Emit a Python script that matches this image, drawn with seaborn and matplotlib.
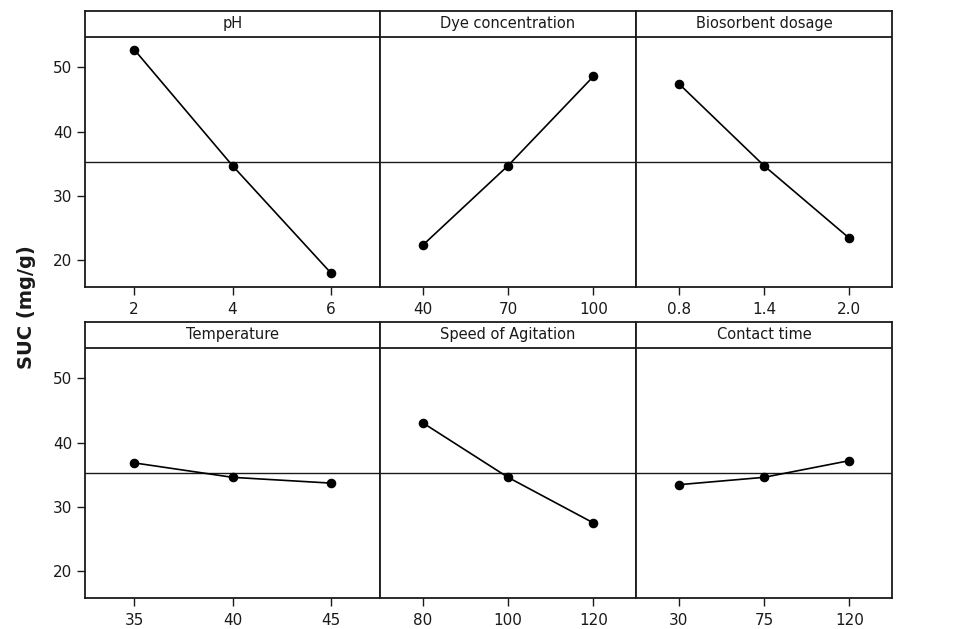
import numpy as np
import pandas as pd
import matplotlib
matplotlib.use("Agg")
import matplotlib.pyplot as plt
import matplotlib.transforms as mtransforms
import seaborn as sns

# ---- data ----
factors = ["pH", "Dye concentration", "Biosorbent dosage",
           "Temperature", "Speed of Agitation", "Contact time"]
levels_ph = ["2", "4", "6"]
levels_dye = ["40", "70", "100"]
levels_bio = ["0.8", "1.4", "2.0"]
levels_temp = ["35", "40", "45"]
levels_speed = ["80", "100", "120"]
levels_time = ["30", "75", "120"]
suc_ph = [52.8, 34.7, 18.0]
suc_dye = [22.3, 34.7, 48.6]
suc_bio = [47.5, 34.7, 23.4]
suc_temp = [36.85, 34.6, 33.7]
suc_speed = [43.1, 34.6, 27.5]
suc_time = [33.45, 34.6, 37.2]
grand_mean = 35.2
yticks = [20, 30, 40, 50]
ylabel = "SUC (mg/g)"

levels = [levels_ph, levels_dye, levels_bio, levels_temp, levels_speed, levels_time]
values = [suc_ph, suc_dye, suc_bio, suc_temp, suc_speed, suc_time]

rows = []
for f, lv, vals in zip(factors, levels, values):
    for l, v in zip(lv, vals):
        rows.append({"factor": f, "level": l, "suc": v})
df = pd.DataFrame(rows)

sns.set_theme(style="white")
plt.rcParams["font.family"] = ["DejaVu Sans"]

W, H = 972, 629
fig = plt.figure(figsize=(W / 100, H / 100), dpi=100)

col_edges = [85, 380, 636, 892]
row_edges = [(11, 287), (322, 598)]

ylo, yhi, strip_y = 15.8, 58.8, 54.8
edge = "#1a1a1a"

for i, f in enumerate(factors):
    r, c = divmod(i, 3)
    x0, x1 = col_edges[c], col_edges[c + 1]
    top, bot = row_edges[r]
    ax = fig.add_axes([x0 / W, (H - bot) / H, (x1 - x0) / W, (bot - top) / H])
    sub = df[df["factor"] == f]
    ax.axhline(grand_mean, color=edge, lw=1.0, zorder=1)
    sns.pointplot(data=sub, x="level", y="suc", order=levels[i], color="black",
                  markers="o", markersize=6, linewidth=1.2, errorbar=None, ax=ax)
    ax.set_xlim(-0.5, 2.5)
    ax.set_ylim(ylo, yhi)
    ax.axhline(strip_y, color=edge, lw=1.3, zorder=3)
    ax.text(0.5, (strip_y + yhi) / 2, f,
            transform=mtransforms.blended_transform_factory(ax.transAxes, ax.transData),
            ha="center", va="center", fontsize=10.5, color="#1a1a1a")
    ax.set_xlabel("")
    ax.set_ylabel("")
    for s in ax.spines.values():
        s.set_color(edge)
        s.set_linewidth(1.3)
    ax.tick_params(axis="x", direction="out", length=6, width=1.0, color=edge,
                   labelsize=11, labelcolor="#1a1a1a", pad=5, bottom=True)
    if c == 0:
        ax.set_yticks(yticks)
        ax.tick_params(axis="y", direction="out", length=6, width=1.0, color=edge,
                       labelsize=11, labelcolor="#1a1a1a", pad=3, left=True)
    else:
        ax.set_yticks([])

fig.text(26 / W, 1 - 307 / H, ylabel, rotation=90, ha="center", va="center",
         fontsize=14, fontweight="bold", color="#1a1a1a")

fig.savefig("out.png", dpi=100)
